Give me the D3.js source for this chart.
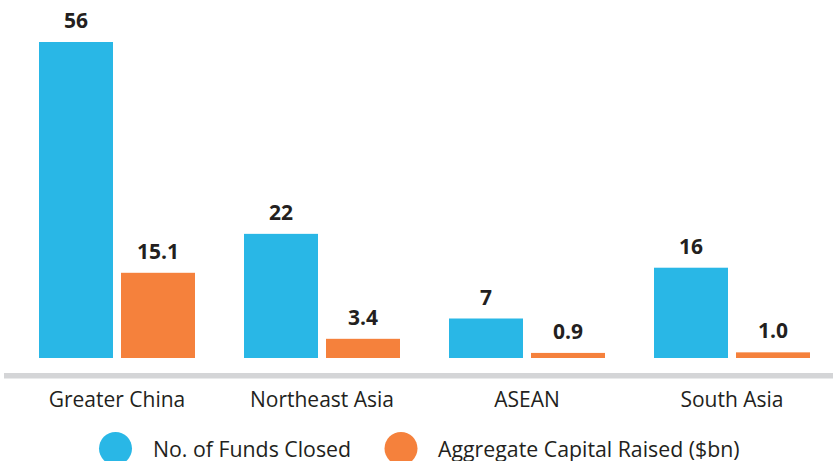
<!DOCTYPE html>
<html>
<head>
<meta charset="utf-8">
<script src="https://cdn.jsdelivr.net/npm/d3@7"></script>
<style>
  body { margin: 0; background: #fff; }
  svg { display: block; font-family: "Open Sans", sans-serif; }
</style>
</head>
<body>
<div id="chart"></div>
<script>
// Data
const regions = ["Greater China", "Northeast Asia", "ASEAN", "South Asia"];
const seriesNames = ["No. of Funds Closed", "Aggregate Capital Raised ($bn)"];
const fundsClosed = [56, 22, 7, 16];
const capitalRaised = [15.1, 3.4, 0.9, 1.0];
const colors = ["#29b7e6", "#f5813c"];

(function() {
const width = 833, height = 461;
const baseline = 358;

const svg = d3.select("#chart")
  .append("svg")
  .attr("width", width)
  .attr("height", height);

// Scales
const x0 = d3.scaleBand()
  .domain(regions)
  .range([14.5, 834.5])
  .paddingInner(49 / 205)
  .paddingOuter(49 / 410);
const x1 = d3.scaleBand()
  .domain(seriesNames)
  .range([0, x0.bandwidth()])
  .paddingInner(8 / 82);
const y = d3.scaleLinear()
  .domain([0, 56])
  .range([baseline, 42]);

const rows = regions.map((r, i) => ({
  region: r,
  values: [
    { key: seriesNames[0], value: fundsClosed[i], label: d3.format("d")(fundsClosed[i]) },
    { key: seriesNames[1], value: capitalRaised[i], label: d3.format(".1f")(capitalRaised[i]) }
  ]
}));

// Axis line
svg.append("rect")
  .attr("x", 4)
  .attr("y", 373)
  .attr("width", width - 4)
  .attr("height", 5.5)
  .attr("fill", "#d4d5d7");

const groups = svg.selectAll(".group")
  .data(rows)
  .enter()
  .append("g")
  .attr("transform", d => `translate(${x0(d.region)},0)`);

// Bars
groups.selectAll("rect")
  .data(d => d.values)
  .enter()
  .append("rect")
  .attr("x", d => x1(d.key))
  .attr("y", d => y(d.value))
  .attr("width", x1.bandwidth())
  .attr("height", d => baseline - y(d.value))
  .attr("fill", (d, i) => colors[i]);

// Value labels
groups.selectAll(".label")
  .data(d => d.values)
  .enter()
  .append("text")
  .attr("x", d => x1(d.key) + x1.bandwidth() / 2)
  .attr("y", d => y(d.value) - 14)
  .attr("text-anchor", "middle")
  .attr("font-size", "21px")
  .attr("font-weight", "bold")
  .attr("fill", "#231f20")
  .text(d => d.label);

// Category labels
svg.selectAll(".cat")
  .data(regions)
  .enter()
  .append("text")
  .attr("x", d => x0(d) + x0.bandwidth() / 2)
  .attr("y", 407)
  .attr("text-anchor", "middle")
  .attr("font-size", "21px")
  .attr("fill", "#231f20")
  .text(d => d);

// Legend
const legendItems = [
  { name: seriesNames[0], cx: 115.5, tx: 153 },
  { name: seriesNames[1], cx: 401, tx: 438 }
];
const legend = svg.append("g");
legend.selectAll("circle")
  .data(legendItems)
  .enter()
  .append("circle")
  .attr("cx", d => d.cx)
  .attr("cy", 448.5)
  .attr("r", 16.5)
  .attr("fill", (d, i) => colors[i]);
legend.selectAll("text")
  .data(legendItems)
  .enter()
  .append("text")
  .attr("x", d => d.tx)
  .attr("y", 456.5)
  .attr("font-size", "21.3px")
  .attr("fill", "#231f20")
  .text(d => d.name);
})();
</script>
</body>
</html>
